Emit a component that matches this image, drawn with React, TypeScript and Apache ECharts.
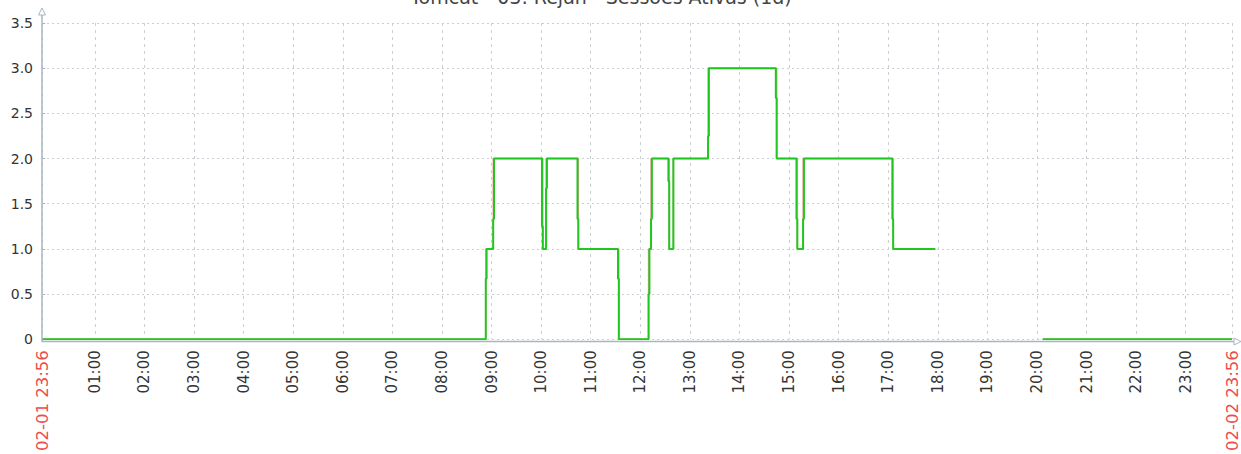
import React, { useEffect, useRef } from "react";
import * as echarts from "echarts";

const titleText = "Tomcat - 03: Rejan - Sessões Ativas (1d)";

const xTickLabels = [
  "02-01 23:56", "01:00", "02:00", "03:00", "04:00", "05:00", "06:00", "07:00",
  "08:00", "09:00", "10:00", "11:00", "12:00", "13:00", "14:00", "15:00",
  "16:00", "17:00", "18:00", "19:00", "20:00", "21:00", "22:00", "23:00", "02-02 23:56",
];

const yTickValues = [0, 0.5, 1, 1.5, 2, 2.5, 3, 3.5];

const pointTimes = [
  "02-01 23:56", "08:53", "08:54", "09:02", "09:03", "10:01", "10:02", "10:06", "10:07",
  "10:44", "10:45", "11:33", "11:34", "12:10", "12:11", "12:13", "12:14", "12:34",
  "12:35", "12:40", "13:22", "13:23", "14:44", "14:45", "15:09", "15:10", "15:17",
  "15:18", "17:05", "17:06", "17:56", "17:57", "20:07", "02-02 23:56",
];

const avgValues = [
  0, 0.67, 1, 1.33, 2, 1.25, 1, 1.67, 2,
  1.33, 1, 0.67, 0, 0.5, 1, 1.33, 2, 1.75,
  1, 2, 2.25, 3, 2.67, 2, 1.33, 1, 1.33,
  2, 1.33, 1, 1, null, 0, 0,
];

const maxValues = [
  0, 1, 1, 2, 2, 2, 1, 2, 2,
  2, 1, 1, 0, 1, 1, 2, 2, 2,
  1, 2, 3, 3, 3, 2, 2, 1, 2,
  2, 2, 1, 1, null, 0, 0,
];

// minutes relative to 02-02 00:00
function toMinutes(s: string): number {
  let day = 2;
  let t = s;
  const m = s.match(/^(\d\d)-(\d\d) (\d\d:\d\d)$/);
  if (m) {
    day = parseInt(m[2], 10);
    t = m[3];
  }
  const [h, mm] = t.split(":").map((v) => parseInt(v, 10));
  return (day - 2) * 1440 + h * 60 + mm;
}

const xTickValues = xTickLabels.map(toMinutes);
const labelByValue: Record<string, string> = {};
xTickLabels.forEach((l, i) => (labelByValue[String(xTickValues[i])] = l));

const AXIS_COLOR = "#a9b6c0";
const GRID_COLOR = "#c9cfd4";

export default function App() {
  const ref = useRef<HTMLDivElement>(null);
  useEffect(() => {
    if (!ref.current) return;
    const chart = echarts.init(ref.current, null, { renderer: "svg" });
    const xMin = xTickValues[0];
    const xMax = xTickValues[xTickValues.length - 1];
    const isEdge = (v: number) => v === xMin || v === xMax;
    chart.setOption({
      animation: false,
      backgroundColor: "#ffffff",
      grid: { left: 42, right: 9, top: 23, bottom: 113, containLabel: false },
      xAxis: {
        type: "value",
        min: xMin,
        max: xMax,
        axisLine: { show: false },
        axisTick: { show: false, customValues: xTickValues },
        axisLabel: {
          customValues: xTickValues,
          rotate: 90,
          margin: 11,
          fontFamily: "DejaVu Sans",
          fontSize: 15,
          color: "#333333",
          formatter: (v: number) => {
            const l = labelByValue[String(v)] ?? "";
            return isEdge(v) ? "{e|" + l + "}" : l;
          },
          rich: {
            e: { fontFamily: "DejaVu Sans", fontSize: 16.5, color: "#ee4b4b" },
          },
        },
        splitLine: {
          show: true,
          lineStyle: { color: GRID_COLOR, type: [3, 4], width: 1 },
        },
      },
      yAxis: {
        type: "value",
        min: yTickValues[0],
        max: yTickValues[yTickValues.length - 1],
        interval: 0.5,
        axisLine: { show: false },
        axisTick: { show: true, length: 3, lineStyle: { color: AXIS_COLOR } },
        axisLabel: {
          margin: 9,
          fontFamily: "DejaVu Sans",
          fontSize: 14,
          color: "#333333",
          formatter: (v: number) => (v === 0 ? "0" : v.toFixed(1)),
        },
        splitLine: {
          show: true,
          lineStyle: { color: GRID_COLOR, type: [2, 3], width: 1 },
        },
      },
      series: [
        {
          type: "line",
          name: "max",
          step: "end",
          symbol: "none",
          connectNulls: false,
          lineStyle: { color: "#f4a3a3", width: 1.5 },
          data: pointTimes.map((t, i) => [toMinutes(t), maxValues[i]]),
          z: 2,
        },
        {
          type: "line",
          name: "avg",
          step: "end",
          symbol: "none",
          connectNulls: false,
          lineStyle: { color: "#1ec81e", width: 2 },
          data: pointTimes.map((t, i) => [toMinutes(t), avgValues[i]]),
          z: 3,
        },
      ],
      graphic: [
        {
          type: "text",
          x: 601,
          y: 6,
          style: {
            text: titleText,
            font: "19px 'DejaVu Sans'",
            fill: "#444444",
            textAlign: "center",
            textVerticalAlign: "bottom",
          },
        },
        {
          type: "line",
          shape: { x1: 42, y1: 15, x2: 42, y2: 342 },
          style: { stroke: AXIS_COLOR, lineWidth: 1.5 },
          z: 10,
        },
        {
          type: "polygon",
          shape: { points: [[42, 8], [38.5, 15], [45.5, 15]] },
          style: { stroke: AXIS_COLOR, fill: "#ffffff", lineWidth: 1 },
          z: 10,
        },
        {
          type: "line",
          shape: { x1: 42, y1: 341.5, x2: 1234, y2: 341.5 },
          style: { stroke: AXIS_COLOR, lineWidth: 1.5 },
          z: 1,
        },
        {
          type: "polygon",
          shape: { points: [[1234, 338], [1234, 345], [1241, 341.5]] },
          style: { stroke: AXIS_COLOR, fill: "#ffffff", lineWidth: 1 },
          z: 10,
        },
      ],
    });
    return () => chart.dispose();
  }, []);
  return (
    <div
      ref={ref}
      style={{ position: "fixed", left: 0, top: 0, width: 1241, height: 454 }}
    />
  );
}
